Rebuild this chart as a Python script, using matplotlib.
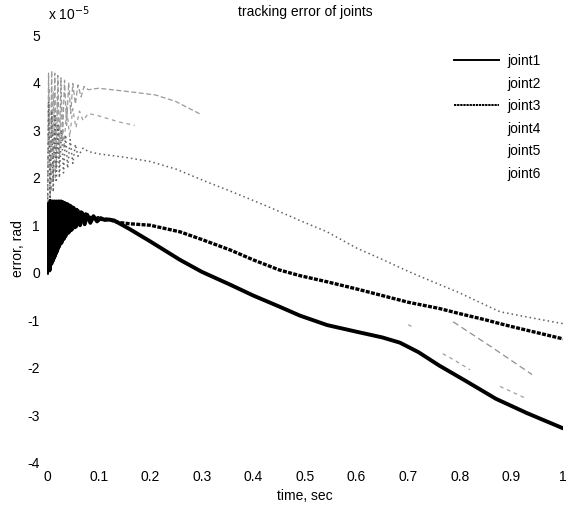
import numpy as np
import matplotlib
matplotlib.use("Agg")
import matplotlib.pyplot as plt

plt.rcParams['font.family'] = ['Liberation Sans', 'DejaVu Sans']
plt.rcParams['axes.unicode_minus'] = False

nan = np.nan

# values are in units of 1e-5 rad
joint1_t = [0.000, 0.003, 0.005, 0.007, 0.009, 0.011, 0.013, 0.015, 0.017, 0.019,
            0.021, 0.023, 0.025, 0.027, 0.029, 0.031, 0.033, 0.035, 0.037, 0.040,
            0.043, 0.046, 0.049, 0.052, 0.056, 0.060, 0.064, 0.068, 0.073, 0.078,
            0.084, 0.090, 0.097, 0.104, 0.112, 0.120, 0.130, 0.160, 0.200, 0.258,
            0.300, 0.355, 0.400, 0.450, 0.490, 0.543, 0.600, 0.625, 0.650, 0.684,
            0.720, 0.760, 0.814, 0.870, 0.930, 1.000]
joint1_v = [0.0, 1.45, 0.05, 1.5, 0.2, 1.5, 0.3, 1.5, 0.4, 1.5,
            0.5, 1.5, 0.6, 1.5, 0.65, 1.48, 0.72, 1.46, 0.8, 1.44,
            0.86, 1.40, 0.92, 1.36, 0.97, 1.30, 1.0, 1.26, 1.02, 1.22,
            1.05, 1.19, 1.08, 1.15, 1.11, 1.12, 1.10, 0.92, 0.66, 0.27,
            0.02, -0.25, -0.48, -0.71, -0.9, -1.1, -1.24, -1.3, -1.36, -1.47,
            -1.67, -1.95, -2.29, -2.65, -2.95, -3.27]

joint2_t = [0.000, 0.003, 0.006, 0.009, 0.012, 0.015, 0.018, 0.021, 0.024, 0.027,
            0.030, 0.034, 0.038, 0.042, 0.046, 0.050, 0.055, 0.060, 0.066, 0.072,
            0.080, 0.100, 0.150, 0.210, 0.250, 0.300]
joint2_v = [0.0, 4.2, 1.6, 4.25, 1.9, 4.2, 2.2, 4.15, 2.5, 4.1,
            2.8, 4.05, 3.1, 4.0, 3.35, 3.98, 3.55, 3.95, 3.7, 3.92,
            3.85, 3.88, 3.82, 3.74, 3.6, 3.32]

joint3_t = [0.000, 0.002, 0.004, 0.006, 0.008, 0.010, 0.012, 0.014, 0.016, 0.018,
            0.020, 0.022, 0.024, 0.026, 0.028, 0.030, 0.032, 0.034, 0.036, 0.038,
            0.041, 0.044, 0.047, 0.050, 0.054, 0.058, 0.062, 0.066, 0.070, 0.075,
            0.080, 0.086, 0.092, 0.099, 0.106, 0.114, 0.122, 0.138, 0.161, 0.200,
            0.258, 0.300, 0.355, 0.400, 0.450, 0.490, 0.543, 0.600, 0.650, 0.700,
            0.760, 0.800, 0.850, 0.878, 0.900, 0.950, 1.000]
joint3_v = [0.0, 1.4, 0.1, 1.52, 0.15, 1.5, 0.25, 1.5, 0.35, 1.5,
            0.45, 1.5, 0.55, 1.5, 0.62, 1.49, 0.7, 1.47, 0.76, 1.45,
            0.83, 1.42, 0.89, 1.38, 0.95, 1.33, 1.06, 1.28, 1.08, 1.24,
            1.1, 1.2, 1.11, 1.16, 1.12, 1.13, 1.11, 1.06, 1.03, 1.0,
            0.86, 0.7, 0.48, 0.27, 0.06, -0.06, -0.19, -0.34, -0.48, -0.62,
            -0.75, -0.86, -0.99, -1.07, -1.13, -1.26, -1.39]

joint4_t = [0.000, 0.004, 0.008, 0.012, 0.016, 0.020, 0.024, 0.028, 0.033, 0.038,
            0.044, 0.050, 0.056, 0.063, 0.070, 0.080, 0.100, 0.140, 0.170, nan,
            0.700, 0.710, nan, 0.767, 0.790, 0.820, nan, 0.878, 0.900, 0.930]
joint4_v = [0.0, 3.9, 1.7, 3.8, 2.0, 3.7, 2.3, 3.6, 2.6, 3.5,
            2.85, 3.45, 3.05, 3.4, 3.2, 3.35, 3.3, 3.17, 3.1, nan,
            -1.09, -1.15, nan, -1.7, -1.84, -2.04, nan, -2.39, -2.5, -2.65]

joint5_t = [0.000, 0.003, 0.006, 0.009, 0.012, 0.015, 0.018, 0.021, 0.024, 0.028,
            0.032, 0.036, 0.040, 0.045, 0.050, 0.055, 0.060, 0.070, 0.080, 0.100,
            0.150, 0.200, 0.250, 0.310, 0.350, 0.420, 0.490, 0.543, 0.600, 0.650,
            0.700, 0.750, 0.795, 0.850, 0.878, 0.950, 1.000]
joint5_v = [0.0, 3.6, 1.5, 3.4, 1.7, 3.3, 1.9, 3.1, 2.0, 3.0,
            2.1, 2.9, 2.2, 2.8, 2.3, 2.7, 2.45, 2.62, 2.55, 2.5,
            2.43, 2.34, 2.18, 1.91, 1.74, 1.43, 1.1, 0.86, 0.52, 0.28,
            0.03, -0.2, -0.4, -0.68, -0.82, -0.97, -1.07]

joint6_t = [0.787, 0.860, 0.940]
joint6_v = [-1.03, -1.55, -2.14]

x_ticks = [0, 0.1, 0.2, 0.3, 0.4, 0.5, 0.6, 0.7, 0.8, 0.9, 1]
x_labels = ['0', '0.1', '0.2', '0.3', '0.4', '0.5', '0.6', '0.7', '0.8', '0.9', '1']
y_ticks = [-4, -3, -2, -1, 0, 1, 2, 3, 4, 5]

fig = plt.figure(figsize=(5.68, 5.12), dpi=100)
ax = fig.add_axes([47 / 568, 1 - 463 / 512, 516 / 568, 428 / 512])

l2, = ax.plot(joint2_t, joint2_v, color='#9a9a9a', lw=0.9, ls=(0, (4, 2)), label='joint2')
l4, = ax.plot(joint4_t, joint4_v, color='#a0a0a0', lw=0.9, ls=(0, (3, 3)), label='joint4')
l5, = ax.plot(joint5_t, joint5_v, color='#606060', lw=1.1, ls=(0, (1, 2)), label='joint5')
l6, = ax.plot(joint6_t, joint6_v, color='#909090', lw=0.9, ls=(0, (5, 3)), label='joint6')
l3, = ax.plot(joint3_t, joint3_v, color='black', lw=2.4, ls=(0, (1.2, 0.4)), label='joint3')
l1, = ax.plot(joint1_t, joint1_v, color='black', lw=2.8, label='joint1')

ax.set_xlim(0, 1)
ax.set_ylim(-4, 5)
ax.set_xticks(x_ticks)
ax.set_xticklabels(x_labels)
ax.set_yticks(y_ticks)
ax.tick_params(length=0, labelsize=10, pad=5)
for s in ax.spines.values():
    s.set_visible(False)

ax.set_title('tracking error of joints', fontsize=10, pad=14)
ax.set_xlabel('time, sec', fontsize=10, labelpad=4)
ax.set_ylabel('error, rad', fontsize=10, labelpad=2)
fig.text(48 / 568, 1 - 14 / 512, r'x 10$^{-5}$', fontsize=10, va='center')

leg = ax.legend(handles=[l1, l2, l3, l4, l5, l6], loc='upper left',
                bbox_to_anchor=(0.765, 0.985), frameon=False, fontsize=10,
                handlelength=3.2, handletextpad=0.6, labelspacing=0.62)
for h, lab in zip(leg.get_lines(), ['joint1', 'joint2', 'joint3', 'joint4', 'joint5', 'joint6']):
    if lab in ('joint1', 'joint3'):
        h.set_linewidth(1.4)
        h.set_color('black')
    else:
        h.set_alpha(0)

fig.savefig('out.png', dpi=100)
